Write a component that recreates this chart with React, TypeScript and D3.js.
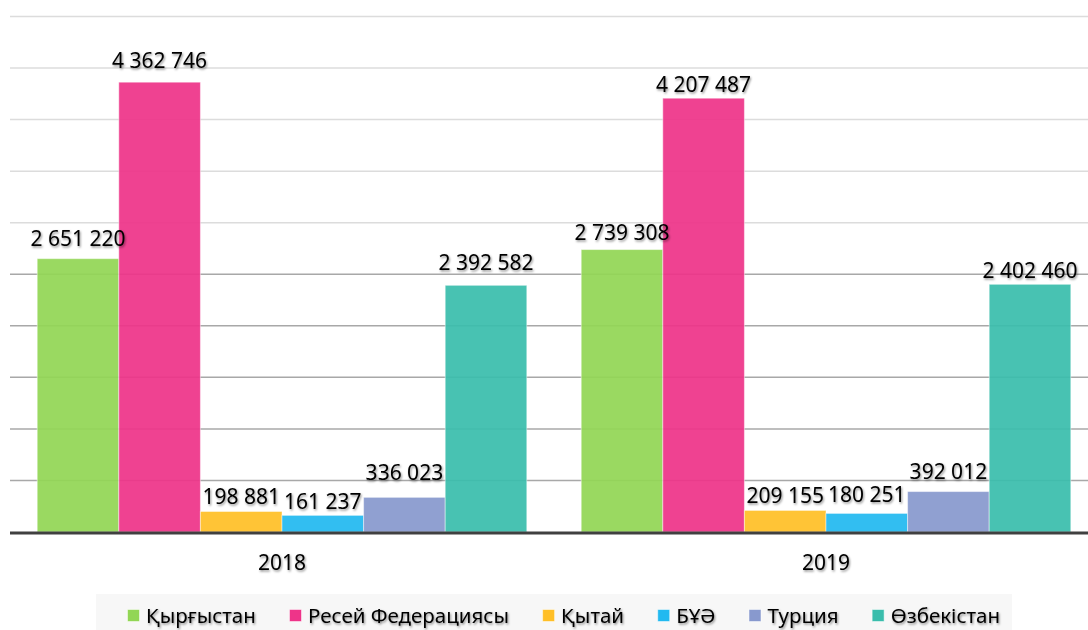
import React from "react";
import * as d3 from "d3";

const years = ["2018", "2019"];
const countries = ["Қырғыстан", "Ресей Федерациясы", "Қытай", "БҰӘ", "Турция", "Өзбекістан"];
const values2018 = [2651220, 4362746, 198881, 161237, 336023, 2392582];
const values2019 = [2739308, 4207487, 209155, 180251, 392012, 2402460];
const colors = ["#92D655", "#EE3489", "#FFBF27", "#22B9F0", "#8899CE", "#3ABDAC"];
// label distance (center) above bar top, as placed in the reference
const labelLift2018 = [20, 22, 15, 14, 25, 23];
const labelLift2019 = [17, 14, 15, 19, 20, 14];
const yTicks = d3.range(500000, 5000001, 500000);

const W = 1088;
const H = 630;
const FONT = "'Noto Sans', 'DejaVu Sans', sans-serif";

const fmt = (v: number) => d3.format(",")(v).replace(/,/g, " ");

function measure(text: string, size: number) {
  const c = document.createElement("canvas").getContext("2d");
  if (!c) return text.length * size * 0.55;
  c.font = `${size}px 'Noto Sans', 'DejaVu Sans', sans-serif`;
  return c.measureText(text).width;
}

export default function App() {
  const x0 = d3.scaleBand<string>().domain(years).range([10, 1098]).paddingInner(0.1).paddingOuter(0.05);
  const x1 = d3.scaleBand<string>().domain(countries).range([0, x0.bandwidth()]);
  const y = d3.scaleLinear().domain([0, 5000000]).range([532, 16.5]);
  const series = [values2018, values2019];
  const lifts = [labelLift2018, labelLift2019];

  // legend layout
  const legendFont = 20.5;
  const sw = 12;
  const swGap = 7;
  const legStart = 127;
  const legEnd = 1000;
  const widths = countries.map((c) => sw + swGap + measure(c, legendFont));
  const sumW = d3.sum(widths);
  const gap = (legEnd - legStart - sumW) / (countries.length - 1);
  let acc = legStart;
  const legendX = widths.map((w) => {
    const v = acc;
    acc += w + gap;
    return v;
  });

  return (
    <svg width={W} height={H} style={{ position: "absolute", left: 0, top: 0, background: "#fff" }} fontFamily={FONT}>
      <defs>
        <filter id="ts" x="-20%" y="-40%" width="140%" height="180%">
          <feDropShadow dx="1" dy="1.5" stdDeviation="1" floodColor="#000" floodOpacity="0.45" />
        </filter>
      </defs>
      {yTicks.map((t) => (
        <line key={t} x1={10} x2={W} y1={y(t)} y2={y(t)} stroke={t <= 2500000 ? "#a8a8a8" : "#dcdcdc"} strokeWidth={1.5} />
      ))}
      {years.map((yr, gi) => (
        <g key={yr} transform={`translate(${x0(yr)},0)`}>
          {countries.map((c, i) => {
            const v = series[gi][i];
            return (
              <rect
                key={c}
                x={x1(c)}
                y={y(v)}
                width={x1.bandwidth()}
                height={y(0) - y(v)}
                fill={colors[i]}
                fillOpacity={0.93}
                stroke="#ffffff"
                strokeOpacity={0.45}
                strokeWidth={1}
              />
            );
          })}
        </g>
      ))}
      <line x1={10} x2={W} y1={y(0) + 1} y2={y(0) + 1} stroke="#404040" strokeWidth={3} />
      {years.map((yr, gi) => (
        <g key={yr + "l"} transform={`translate(${x0(yr)},0)`} filter="url(#ts)">
          {countries.map((c, i) => {
            const v = series[gi][i];
            return (
              <text
                key={c}
                x={(x1(c) as number) + x1.bandwidth() / 2}
                y={y(v) - lifts[gi][i]}
                dy="0.35em"
                textAnchor="middle"
                fontSize={21}
                fill="#000"
              >
                {fmt(v)}
              </text>
            );
          })}
        </g>
      ))}
      {years.map((yr) => (
        <text
          key={yr + "a"}
          x={(x0(yr) as number) + x0.bandwidth() / 2}
          y={563}
          dy="0.35em"
          textAnchor="middle"
          fontSize={21}
          fill="#000"
          filter="url(#ts)"
        >
          {yr}
        </text>
      ))}
      <rect x={96} y={594} width={916} height={36} fill="#f7f7f7" />
      {countries.map((c, i) => (
        <g key={c + "leg"} transform={`translate(${legendX[i]},0)`}>
          <rect x={0.5} y={609.5} width={sw} height={sw} fill={colors[i]} stroke="#fff" strokeOpacity={0.5} />
          <text x={sw + swGap} y={615.5} dy="0.35em" fontSize={legendFont} fill="#000" filter="url(#ts)">
            {c}
          </text>
        </g>
      ))}
    </svg>
  );
}
